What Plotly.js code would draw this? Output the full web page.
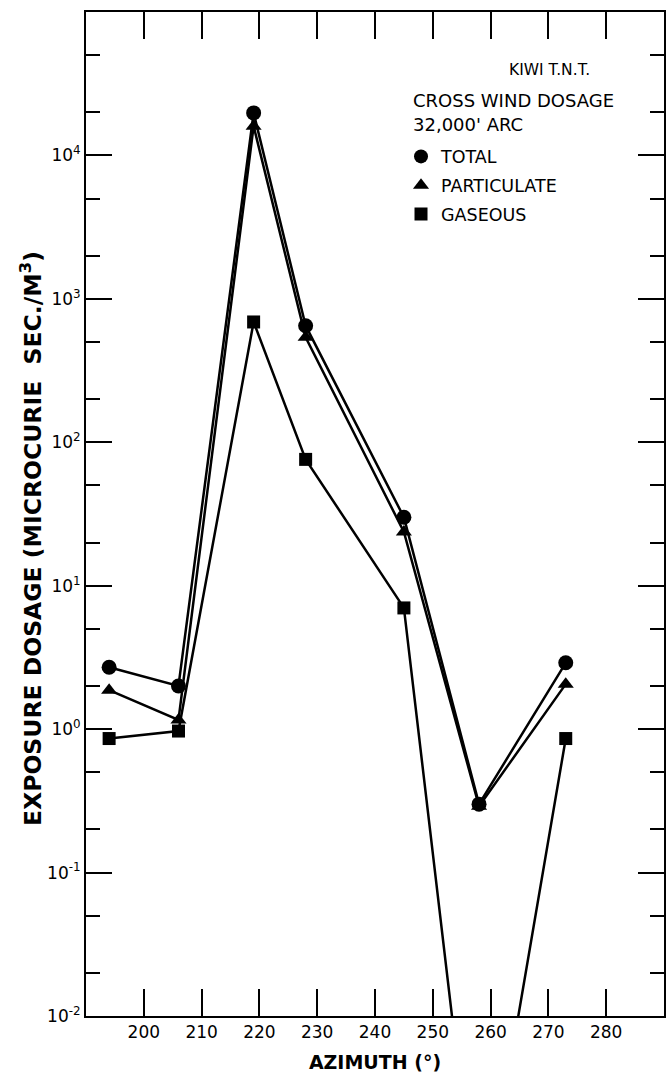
<!DOCTYPE html>
<html>
<head>
<meta charset="utf-8">
<script src="https://cdn.plot.ly/plotly-3.0.1.min.js"></script>
<style>html,body{margin:0;padding:0;background:#fff;}#chart{width:666px;height:1080px;}</style>
</head>
<body>
<div id="chart"></div>
<script>
// Data
const azimuth = [194, 206, 219, 228, 245, 258, 273];
const total = [2.7, 2.0, 19800, 650, 30, 0.30, 2.9];
const particulate = [1.87, 1.16, 16000, 540, 23.7, 0.29, 2.06];
const gaseous = [0.86, 0.97, 690, 76, 7.0, 0.00025, 0.86];

const seriesNames = ["TOTAL", "PARTICULATE", "GASEOUS"];
const xTickVals = [200, 210, 220, 230, 240, 250, 260, 270, 280];
const yTickExps = [-2, -1, 0, 1, 2, 3, 4];
const minorMultipliers = [2, 5];

const FONT = "DejaVu Sans, Arial, sans-serif";

const yTickVals = yTickExps.map(e => Math.pow(10, e));
const yTickText = yTickExps.map(e => "10<sup>" + e + "</sup>");
const yMinor = [];
yTickExps.concat([5]).forEach(e => minorMultipliers.forEach(m => { if (e < 5) yMinor.push(m * Math.pow(10, e)); }));

const lineStyle = {color: "black", width: 2.5};
const traces = [
  {x: azimuth, y: gaseous, name: seriesNames[2], mode: "lines+markers", line: lineStyle,
   marker: {symbol: "square", size: 13, color: "black"}, showlegend: false, cliponaxis: true},
  {x: azimuth, y: particulate, name: seriesNames[1], mode: "lines+markers", line: lineStyle,
   marker: {symbol: "triangle-up", size: 14, color: "black"}, showlegend: false, cliponaxis: true},
  {x: azimuth, y: total, name: seriesNames[0], mode: "lines+markers", line: lineStyle,
   marker: {symbol: "circle", size: 15, color: "black"}, showlegend: false, cliponaxis: true},
  // legend entries (markers only)
  {x: [null], y: [null], name: seriesNames[0], mode: "markers", legendgroup: "a",
   marker: {symbol: "circle", size: 14, color: "black"}},
  {x: [null], y: [null], name: seriesNames[1], mode: "markers", legendgroup: "b",
   marker: {symbol: "triangle-up", size: 14, color: "black"}},
  {x: [null], y: [null], name: seriesNames[2], mode: "markers", legendgroup: "c",
   marker: {symbol: "square", size: 13, color: "black"}}
];

const layout = {
  width: 666, height: 1080,
  margin: {l: 86, r: 2, t: 12, b: 64},
  paper_bgcolor: "white", plot_bgcolor: "white",
  font: {family: FONT, color: "black", size: 16},
  showlegend: true,
  legend: {x: 0.545, y: 0.874, xanchor: "left", yanchor: "top",
           font: {family: FONT, size: 17.5, color: "black"},
           tracegroupgap: 3, bgcolor: "rgba(0,0,0,0)", itemclick: false},
  xaxis: {
    range: [190, 290], tickvals: xTickVals, ticks: "inside", ticklen: 27, tickwidth: 2,
    tickcolor: "black", showline: true, linewidth: 2, linecolor: "black", mirror: "ticks",
    showgrid: false, zeroline: false, tickfont: {family: FONT, size: 17, color: "black"},
    title: {text: "<b>AZIMUTH (°)</b>", font: {family: FONT, size: 19, color: "black"}, standoff: 14}
  },
  yaxis: {
    type: "log", range: [-2, 5], tickmode: "array", tickvals: yTickVals, ticktext: yTickText,
    ticks: "inside", ticklen: 26, tickwidth: 2, tickcolor: "black",
    showline: true, linewidth: 2, linecolor: "black", mirror: "ticks",
    showgrid: false, zeroline: false, tickfont: {family: FONT, size: 17, color: "black"},
    minor: {tickvals: yMinor, ticks: "inside", ticklen: 14, tickwidth: 2, tickcolor: "black", showgrid: false}
  },
  annotations: [
    {xref: "paper", yref: "paper", x: (31 - 86) / 578, y: 1 - (539 - 12) / 1004, xanchor: "center", yanchor: "middle",
     textangle: -90, text: "<b>EXPOSURE DOSAGE (MICROCURIE  SEC./M<sup>3</sup>)</b>", showarrow: false,
     font: {family: FONT, size: 23.5, color: "black"}},
    {xref: "paper", yref: "paper", x: (592 - 86) / 578, y: 1 - (70 - 12) / 1004, xanchor: "right", yanchor: "middle",
     text: "KIWI T.N.T.", showarrow: false, font: {family: FONT, size: 15.5, color: "black"}},
    {xref: "paper", yref: "paper", x: (411 - 86) / 578, y: 1 - (100 - 12) / 1004, xanchor: "left", yanchor: "middle",
     text: "CROSS WIND DOSAGE", showarrow: false, font: {family: FONT, size: 18, color: "black"}},
    {xref: "paper", yref: "paper", x: (411 - 86) / 578, y: 1 - (124 - 12) / 1004, xanchor: "left", yanchor: "middle",
     text: "32,000' ARC", showarrow: false, font: {family: FONT, size: 18, color: "black"}}
  ]
};

Plotly.newPlot("chart", traces, layout, {displayModeBar: false, staticPlot: true});
</script>
</body>
</html>
